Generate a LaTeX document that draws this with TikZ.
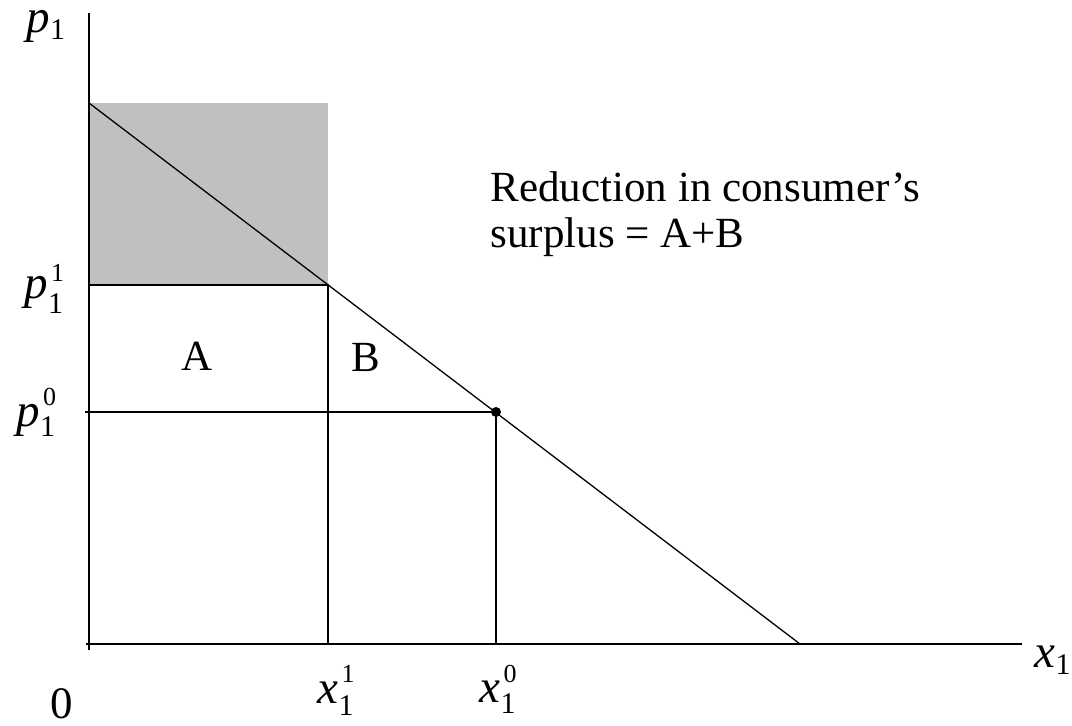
\documentclass[tikz,border=0pt]{standalone}
\usepackage{fontspec}
\setmainfont{Liberation Serif}
\definecolor{greyfill}{HTML}{C0C0C0}
\newcommand\lbl[5]{\fontsize{47}{47}\selectfont\textit{#1}\makebox[0pt][l]{\hspace{3pt}\raisebox{#5}{\fontsize{26}{26}\selectfont #3}}\raisebox{-#4}{\fontsize{30}{30}\selectfont #2}}
\begin{document}
\begin{tikzpicture}[x=1pt,y=-1pt,line width=1.3pt,
  lab/.style={inner sep=0pt,anchor=base west},
  txt/.style={inner sep=0pt,anchor=base west,font=\fontsize{43}{46}\selectfont}]
\useasboundingbox (0,0) rectangle (1072,726);
\coordinate (O) at (89,644);
\coordinate (Ybot) at (89,650);
\coordinate (Ytop) at (89,13);
\coordinate (Xbeg) at (86,644);
\coordinate (Xend) at (1022,644);
\coordinate (D0) at (89,103);
\coordinate (D1) at (800,644);
\coordinate (E1) at (328,285);
\coordinate (E0) at (496,412);
\coordinate (P0) at (85,412);
\fill[greyfill] (D0) rectangle (E1);
\draw (Ybot) -- (Ytop);
\draw (Xbeg) -- (Xend);
\draw (D0) -- (D1);
\draw (O |- E1) -- (E1) -- (E1 |- O);
\draw (P0) -- (E0) -- (E0 |- O);
\fill (E0) circle (5);
\node[lab] (lp1) at (26,32) {\lbl{p}{1}{}{7pt}{0pt}};
\node[lab] (lp11) at (24,298) {\lbl{p}{1}{1}{15pt}{17pt}};
\node[lab] (lp10) at (16,426) {\lbl{p}{1}{0}{10pt}{21pt}};
\node[lab] (lx11) at (317,703) {\lbl{x}{1}{1}{12pt}{21pt}};
\node[lab] (lx10) at (479,702) {\lbl{x}{1}{0}{11pt}{20pt}};
\node[lab] (lx1) at (1034,667) {\lbl{x}{1}{}{7pt}{0pt}};
\node[lab,font=\fontsize{45}{45}\selectfont] (zero) at (50,718) {0};
\node[txt] (A) at (181,370) {A};
\node[txt] (B) at (351,371) {B};
\node[txt] (t1) at (490,201) {Reduction in consumer’s};
\node[txt] (t2) at (490,247) {surplus = A+B};
\end{tikzpicture}
\end{document}
